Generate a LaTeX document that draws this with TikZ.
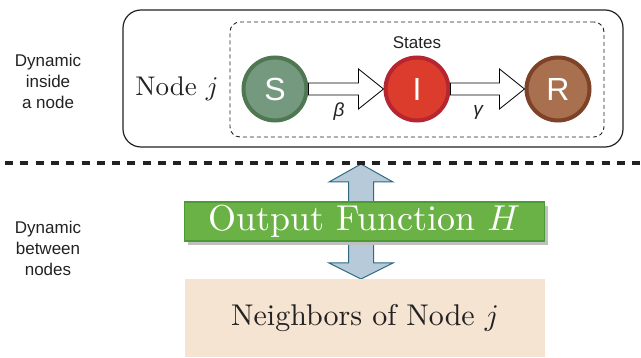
\RequirePackage{fix-cm}
\documentclass[tikz,border=0pt]{standalone}
\usepackage{fontspec}
\setmainfont{lmroman10-regular.otf}[ItalicFont=lmroman10-italic.otf,BoldFont=lmroman10-bold.otf]
\newfontfamily\arialf{Liberation Sans}
\usetikzlibrary{calc,shadows,backgrounds}
\definecolor{sfill}{HTML}{74997F}
\definecolor{sbord}{HTML}{4F7752}
\definecolor{ifill}{HTML}{DB3C2C}
\definecolor{ibord}{HTML}{B62530}
\definecolor{rfill}{HTML}{A97050}
\definecolor{rbord}{HTML}{7D4227}
\definecolor{gfill}{HTML}{6AB245}
\definecolor{gbord}{HTML}{4C9A35}
\definecolor{peach}{HTML}{F6E4D2}
\definecolor{afill}{HTML}{B7CAD9}
\definecolor{abord}{HTML}{2E6A85}
\definecolor{ink}{HTML}{222222}
\DeclareFontShape{OML}{cmm}{m}{it}{<->cmmi10}{}
\begin{document}
\begin{tikzpicture}[x=1pt,y=-1pt,
  state/.style={circle,minimum size=63pt,line width=4pt,inner sep=0pt,text=white,
    font=\arialf\fontsize{32}{32}\selectfont},
  sidelabel/.style={align=center,text=ink,font=\arialf\fontsize{17}{21}\selectfont},
  blockarrow/.style={draw=black,fill=white,line width=0.8pt,line join=miter},
  greek/.style={font=\arialf\itshape\fontsize{19}{19}\selectfont,text=ink}]
\useasboundingbox (0,0) rectangle (641,358);
% outer box and dashed states box
\node[draw=ink,line width=1.2pt,rounded corners=18pt,minimum width=500pt,minimum height=137pt] (outer) at (373,78.5) {};
\node[draw=ink,dashed,dash pattern=on 4pt off 3pt,line width=0.9pt,rounded corners=10pt,minimum width=374pt,minimum height=115pt] (states) at (417,79.5) {};
\node[font=\arialf\fontsize{17}{17}\selectfont,text=ink] (stlab) at (417,43) {States};
\node[font=\fontsize{27}{27}\selectfont,text=ink] (nodej) at (177,89) {Node $j$};
% states
\node[state,fill=sfill,draw=sbord] (S) at (275,89) {S};
\node[state,fill=ifill,draw=ibord] (I) at (417,89) {I};
\node[state,fill=rfill,draw=rbord] (R) at (558,89) {R};
% block arrows
\draw[blockarrow] ($(S.east)+(0,-6)$) -- ($(I.west)+(-25,-6)$) -- ($(I.west)+(-25,-20)$) -- (I.west)
  -- ($(I.west)+(-25,20)$) -- ($(I.west)+(-25,6)$) -- ($(S.east)+(0,6)$) -- cycle;
\draw[blockarrow] ($(I.east)+(0,-6)$) -- ($(R.west)+(-25,-6)$) -- ($(R.west)+(-25,-20)$) -- (R.west)
  -- ($(R.west)+(-25,20)$) -- ($(R.west)+(-25,6)$) -- ($(I.east)+(0,6)$) -- cycle;
\node[greek] (beta) at (339,112) {β};
\node[greek] (gamma) at (478,112) {γ};
% separator
\coordinate (sepL) at (0,163);
\coordinate (sepR) at (641,163);
\draw[ink,line width=3.5pt,dash pattern=on 8pt off 7.3pt,dash phase=10.3pt] (sepL) -- (sepR);
% side labels
\node[sidelabel] (inside) at (48,81) {Dynamic\\inside\\a node};
\node[sidelabel] (between) at (48,248) {Dynamic\\between\\nodes};
% lower boxes
\node[fill=peach,minimum width=360pt,minimum height=78pt,inner sep=0pt,text=ink,
  font=\fontsize{30}{30}\selectfont] (nb) at (365,318) {Neighbors of Node $j$};
\node[fill=gfill,draw=gbord,line width=1.2pt,minimum width=360pt,minimum height=39pt,inner sep=0pt,
  text=white,font=\fontsize{36}{36}\selectfont,
  drop shadow={shadow xshift=3pt,shadow yshift=-4pt,fill=black!25,opacity=1}] (H) at (364.5,221.5) {Output Function $H$};
% double arrow
\coordinate (top) at (361,164);
\coordinate (bot) at (361,279);
\begin{scope}[on background layer]
\draw[fill=afill,draw=abord,line width=1pt,line join=miter] (top) -- ++(32,18) -- ++(-19.5,0)
  -- ($(bot)+(12.5,-16)$) -- ++(19.5,0) -- (bot) -- ++(-32,-16) -- ++(19.5,0)
  -- ($(top)+(-12.5,18)$) -- ++(-19.5,0) -- cycle;
\end{scope}
\end{tikzpicture}
\end{document}
